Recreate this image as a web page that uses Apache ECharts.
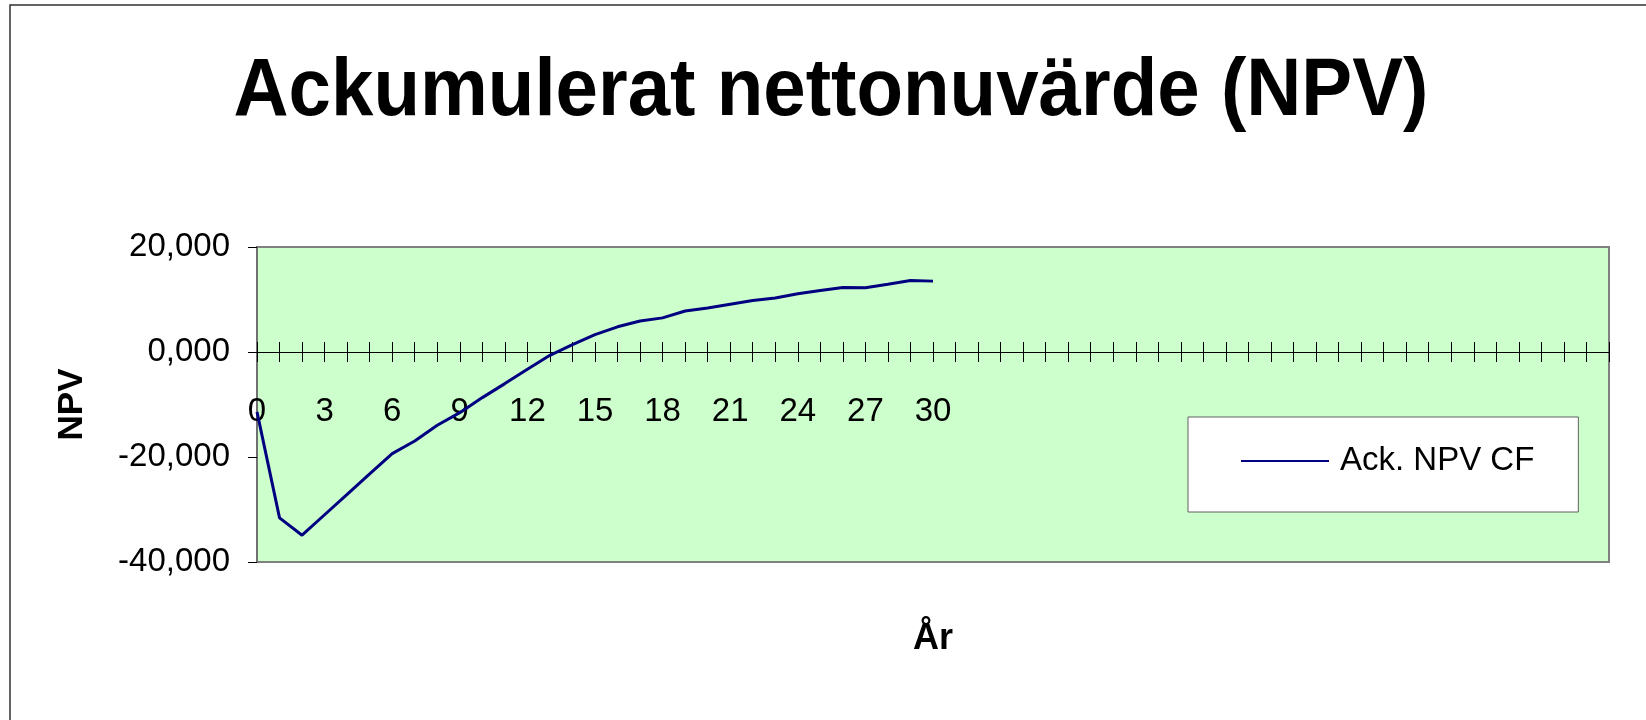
<!DOCTYPE html>
<html>
<head>
<meta charset="utf-8">
<script src="https://cdn.jsdelivr.net/npm/echarts@6/dist/echarts.min.js"></script>
<style>
html,body{margin:0;padding:0;background:#fff;}
#chart{width:1646px;height:720px;}
</style>
</head>
<body>
<div id="chart"></div>
<script>
const titleText = 'Ackumulerat nettonuvärde (NPV)';
const seriesName = 'Ack. NPV CF';
const yAxisName = 'NPV';
const xAxisName = 'År';
// Years 0..30 with data, axis continues with 30 unlabeled categories
const years = ['0','1','2','3','4','5','6','7','8','9','10','11','12','13','14','15','16','17','18','19','20','21','22','23','24','25','26','27','28','29','30'];
const blankCategories = 30;
const npv = [-11.4, -31.6, -34.9, -31.0, -27.1, -23.2, -19.35, -16.95, -13.96, -11.55, -8.69, -6.02, -3.3, -0.63, 1.4, 3.3, 4.8, 5.9, 6.5, 7.8, 8.4, 9.1, 9.8, 10.3, 11.1, 11.7, 12.3, 12.25, 12.9, 13.6, 13.5];
const yMin = -40, yMax = 20, yStep = 20;

const categories = years.concat(new Array(blankCategories).fill(''));
const FONT = '"Liberation Sans", Arial, Helvetica, sans-serif';

const chart = echarts.init(document.getElementById('chart'), null, {renderer: 'canvas'});
chart.setOption({
  animation: false,
  backgroundColor: '#ffffff',
  graphic: [
    {type: 'rect', z: -10, shape: {x: 10, y: 5, width: 1700, height: 800},
     style: {fill: 'none', stroke: '#303030', lineWidth: 1.5}},
    {type: 'text', x: 831, y: 92, scaleX: 0.93,
     style: {text: titleText, font: 'bold 82px ' + FONT, fill: '#000',
             textAlign: 'center', textVerticalAlign: 'middle'}}
  ],
  grid: {
    left: 257, right: 37, top: 247, bottom: 158,
    show: true, backgroundColor: '#CCFFCC', borderColor: '#808080', borderWidth: 2,
    containLabel: false, outerBoundsMode: 'none'
  },
  legend: {
    left: 1188, top: 417,
    backgroundColor: '#ffffff', borderColor: '#606060', borderWidth: 1,
    padding: [24, 44, 31, 53],
    itemWidth: 88, itemHeight: 40,
    icon: 'path://M0,19 L88,19 L88,21 L0,21 Z',
    textStyle: {fontFamily: FONT, fontSize: 33, color: '#000', padding: [0,0,0,6], lineHeight: 40},
    data: [seriesName]
  },
  xAxis: [
    {
      type: 'category', data: categories, boundaryGap: false, position: 'bottom',
      axisLine: {onZero: true, onZeroAxisIndex: 0, lineStyle: {color: '#000', width: 1}},
      axisTick: {show: true, interval: 0, length: 10, lineStyle: {color: '#000'}},
      axisLabel: {interval: 2, margin: -167, fontFamily: FONT, fontSize: 33, color: '#000'},
      name: xAxisName, nameLocation: 'middle', nameGap: 59,
      nameTextStyle: {fontFamily: FONT, fontSize: 36, fontWeight: 'bold', color: '#000'},
      splitLine: {show: false}
    },
    {
      type: 'category', data: categories, boundaryGap: false, position: 'bottom',
      axisLine: {show: true, onZero: true, onZeroAxisIndex: 1, lineStyle: {color: '#000', width: 1}},
      axisTick: {show: true, inside: true, interval: 0, length: 10, lineStyle: {color: '#000'}},
      axisLabel: {show: false},
      splitLine: {show: false}
    }
  ],
  yAxis: [
    {
      type: 'value', min: yMin, max: yMax, interval: yStep,
      axisLine: {show: true, lineStyle: {color: '#707070', width: 2}},
      axisTick: {show: true, length: 9, lineStyle: {color: '#000'}},
      axisLabel: {margin: 27, fontFamily: FONT, fontSize: 33, color: '#000',
                  formatter: v => v.toFixed(3).replace('.', ',')},
      splitLine: {show: false},
      name: yAxisName, nameLocation: 'middle', nameGap: 167, nameRotate: 90,
      nameTextStyle: {fontFamily: FONT, fontSize: 35, fontWeight: 'bold', color: '#000'}
    },
    {
      type: 'value', min: yMin, max: yMax, interval: yStep, position: 'left',
      axisLine: {show: false}, axisTick: {show: false}, axisLabel: {show: false},
      splitLine: {show: false}
    }
  ],
  series: [{
    name: seriesName, type: 'line', data: npv, xAxisIndex: 0, yAxisIndex: 0,
    symbol: 'none', lineStyle: {color: '#000080', width: 3}, itemStyle: {color: '#000080'}
  }]
});
</script>
</body>
</html>
